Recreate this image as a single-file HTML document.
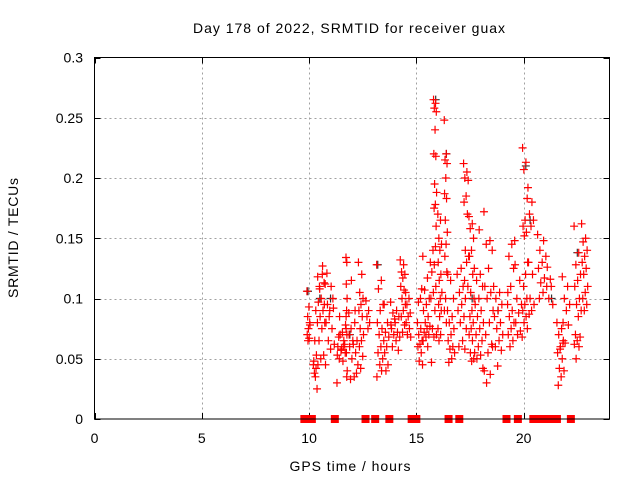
<!DOCTYPE html>
<html><head><meta charset="utf-8"><style>
body{margin:0;background:#fff;}
svg{display:block;font-family:"Liberation Sans",sans-serif;}
</style></head><body>
<svg id="chart" width="640" height="480" viewBox="0 0 640 480" xmlns="http://www.w3.org/2000/svg">
<rect width="640" height="480" fill="#fff"/>
<g id="grid"></g>
<g id="ticks"></g>
<g id="series-black"></g>
<g id="series-red"></g>
<rect x="94.5" y="57.5" width="515" height="361.5" fill="none" stroke="#000" stroke-width="1"/>
<text x="349" y="33" font-size="14" text-anchor="middle" textLength="312" lengthAdjust="spacing">Day 178 of 2022, SRMTID for receiver guax</text>
<text x="350" y="471" font-size="14" text-anchor="middle" textLength="121" lengthAdjust="spacing">GPS time / hours</text>
<text x="0" y="0" font-size="14" text-anchor="middle" textLength="120" lengthAdjust="spacing" transform="translate(18,238) rotate(-90)">SRMTID / TECUs</text>
<g id="labels"></g>
</svg>
<script>
const xTicks = [0,5,10,15,20];
const yTicks = [0,0.05,0.1,0.15,0.2,0.25,0.3];
const yTickLabels = ["0","0.05","0.1","0.15","0.2","0.25","0.3"];
const colStart = [9.9,10.2,10.4,10.75,11.3,11.72,11.85,12.3,12.65,13.15,13.5,13.8,14.25,14.5,15.05,15.3,15.65,15.8,16.0,16.3,16.45,16.9,17.2,17.45,17.7,18.15,18.6,19.25,19.6,19.95,20.2,20.65,21.1,21.55,21.8,22.35,22.7];
const colEnd   = [10.05,10.4,10.75,11.2,11.75,11.78,12.3,12.55,12.85,13.5,13.75,14.25,14.5,14.75,15.3,15.65,15.95,15.95,16.2,16.45,16.8,17.35,17.45,17.7,18.15,18.6,19.05,19.6,19.95,20.2,20.5,21.1,21.4,21.9,22.2,22.7,23.0];
const colValues = [
[0.106,0.093,0.085,0.08,0.075,0.07,0.067,0.065,0.078],
[0.045,0.042,0.038,0.025,0.035,0.048,0.053,0.065,0.08,0.09],
[0.118,0.12,0.11,0.113,0.1,0.097,0.09,0.085,0.08,0.075,0.065,0.053,0.05,0.045,0.127,0.108,0.095],
[0.112,0.11,0.095,0.092,0.09,0.08,0.075,0.065,0.062,0.058,0.121,0.1,0.085,0.045],
[0.03,0.048,0.05,0.055,0.058,0.06,0.065,0.07,0.075,0.072,0.068,0.062,0.057,0.053,0.06,0.085,0.078],
[0.134,0.13,0.112,0.1,0.09,0.085,0.07,0.055,0.04,0.035],
[0.088,0.08,0.075,0.065,0.062,0.06,0.055,0.05,0.045,0.035,0.033,0.038,0.065,0.07,0.09,0.115],
[0.13,0.12,0.105,0.1,0.095,0.09,0.085,0.075,0.07,0.065,0.06,0.052,0.042],
[0.098,0.09,0.085,0.08,0.075],
[0.128,0.115,0.108,0.095,0.09,0.08,0.075,0.07,0.065,0.06,0.055,0.05,0.045,0.035,0.04],
[0.095,0.08,0.072,0.068,0.06,0.055,0.045,0.04],
[0.097,0.09,0.088,0.085,0.08,0.075,0.072,0.07,0.068,0.065,0.06,0.057,0.083,0.078],
[0.132,0.128,0.122,0.12,0.117,0.11,0.107,0.1,0.095,0.09,0.085,0.078,0.072],
[0.105,0.1,0.095,0.088,0.085,0.08,0.075,0.07,0.068],
[0.08,0.075,0.07,0.065,0.062,0.06,0.055,0.048,0.045,0.1,0.097,0.108],
[0.135,0.117,0.107,0.1,0.095,0.09,0.085,0.08,0.077,0.075,0.072,0.07,0.068,0.065,0.06],
[0.13,0.128,0.122,0.11,0.105,0.1,0.09,0.075,0.07,0.068,0.047,0.143,0.14],
[0.265,0.262,0.258,0.255,0.24,0.22,0.218,0.195,0.188,0.178,0.175,0.16],
[0.17,0.165,0.15,0.145,0.14,0.13,0.12,0.115,0.105,0.1,0.095,0.09,0.085,0.075,0.07,0.065],
[0.248,0.22,0.215,0.212,0.2,0.187,0.183,0.165,0.155,0.145,0.135,0.122,0.1,0.09,0.08],
[0.09,0.085,0.08,0.075,0.07,0.065,0.06,0.058,0.055,0.05,0.047,0.1,0.115,0.12],
[0.12,0.11,0.105,0.1,0.095,0.09,0.085,0.08,0.075,0.065,0.06,0.058,0.125],
[0.212,0.205,0.2,0.198,0.185,0.18,0.17,0.14,0.135,0.13,0.115,0.11],
[0.168,0.162,0.158,0.15,0.14,0.135,0.12,0.105,0.1,0.09,0.085,0.08,0.075,0.07,0.065,0.055,0.05,0.048],
[0.125,0.12,0.115,0.11,0.1,0.095,0.09,0.085,0.08,0.075,0.07,0.065,0.06,0.055,0.053,0.05,0.042,0.157],
[0.172,0.148,0.145,0.14,0.125,0.11,0.105,0.1,0.09,0.08,0.07,0.062,0.055,0.04,0.037,0.03,0.06],
[0.11,0.105,0.1,0.095,0.09,0.085,0.08,0.075,0.07,0.065,0.06,0.057,0.044],
[0.095,0.09,0.085,0.08,0.075,0.07,0.065,0.06,0.148,0.145,0.135,0.125,0.11,0.105],
[0.128,0.115,0.1,0.095,0.088,0.08,0.073,0.07,0.068],
[0.225,0.213,0.207,0.183,0.165,0.16,0.155,0.152,0.13,0.12,0.11,0.1,0.095,0.09,0.085,0.08,0.075],
[0.192,0.18,0.17,0.165,0.16,0.13,0.12,0.1,0.095,0.09,0.087],
[0.153,0.148,0.14,0.135,0.13,0.125,0.117,0.113,0.11,0.105,0.1],
[0.126,0.11,0.1,0.095,0.116],
[0.08,0.075,0.07,0.065,0.06,0.055,0.05,0.042,0.04,0.035,0.028,0.063,0.058],
[0.118,0.11,0.1,0.095,0.09,0.08,0.078,0.063],
[0.16,0.138,0.128,0.12,0.115,0.11,0.1,0.095,0.09,0.085,0.07,0.068,0.065,0.062,0.06,0.05],
[0.162,0.15,0.147,0.14,0.135,0.13,0.125,0.12,0.11,0.105,0.1,0.095,0.09]
];
const blackHours = [9.95,10.5,11.0,11.9,13.2,15.9,16.4,17.6,18.8,20.1,20.3,21.3,22.5];
const blackValues = [0.106,0.1,0.1,0.07,0.128,0.265,0.22,0.1,0.09,0.21,0.165,0.1,0.138];
const zeroHours = [9.78,10.13,11.2,12.63,13.08,13.74,14.78,15.0,16.5,17.0,19.2,19.73,20.45,20.6,20.75,20.9,21.2,21.55,22.2];

const X0=94.5, X1=609.5, Y0=419, Y1=57.5;
function xs(h){return X0+(h/24)*(X1-X0);}
function ys(v){return Y0-(v/0.3)*(Y0-Y1);}
const NS="http://www.w3.org/2000/svg";
function mk(tag,attrs,parent){const e=document.createElementNS(NS,tag);for(const k in attrs)e.setAttribute(k,attrs[k]);parent.appendChild(e);return e;}
const grid=document.getElementById('grid'), ticks=document.getElementById('ticks'), labels=document.getElementById('labels');
xTicks.forEach(function(t){
  const x=Math.round(xs(t))+0.5;
  if(t>0){const g=mk('line',{x1:x,x2:x,y1:Y1,y2:Y0,stroke:'#a0a0a0','stroke-dasharray':'2,3'},grid);
    
    }
  const tk=mk('path',{d:'M'+x+' '+Y0+'V'+(Y0-6)+'M'+x+' '+Y1+'V'+(Y1+6),stroke:'#000'},ticks);
  
  
  const l=mk('text',{x:xs(t),y:443,'font-size':14,'text-anchor':'middle'},labels);l.textContent=String(t);
  
  
});
yTicks.forEach(function(t,i){
  const y=Math.round(ys(t))+0.5;
  if(t>0&&t<0.3){const g=mk('line',{x1:X0,x2:X1,y1:y,y2:y,stroke:'#a0a0a0','stroke-dasharray':'2,3'},grid);
    
    }
  const tk=mk('path',{d:'M'+X0+' '+y+'H'+(X0+6)+'M'+X1+' '+y+'H'+(X1-6),stroke:'#000'},ticks);
  
  
  const l=mk('text',{x:83,y:ys(t)+5,'font-size':14,'text-anchor':'end'},labels);l.textContent=yTickLabels[i];
  
  
});
function plus(x,y,color,parent,name){
  const p=mk('path',{d:'M'+(x-4)+' '+y+'h8M'+x+' '+(y-4)+'v8',stroke:color,'stroke-width':1.2,fill:'none'},parent);
  
  
}
const black=document.getElementById('series-black'), red=document.getElementById('series-red');
blackHours.forEach(function(h,i){plus(xs(h),ys(blackValues[i]),'#333',black,'black-point');});
colValues.forEach(function(vals,c){
  vals.forEach(function(v,i){
    const f=((i*0.618)%1);
    const h=colStart[c]+(colEnd[c]-colStart[c])*f;
    plus(xs(h),ys(v),'#ff0000',red,'red-point');
  });
});
zeroHours.forEach(function(h){
  const r=mk('rect',{x:xs(h)-4,y:ys(0)-4,width:8,height:8,fill:'#ff0000'},red);
  
  
});
</script>
</body></html>
